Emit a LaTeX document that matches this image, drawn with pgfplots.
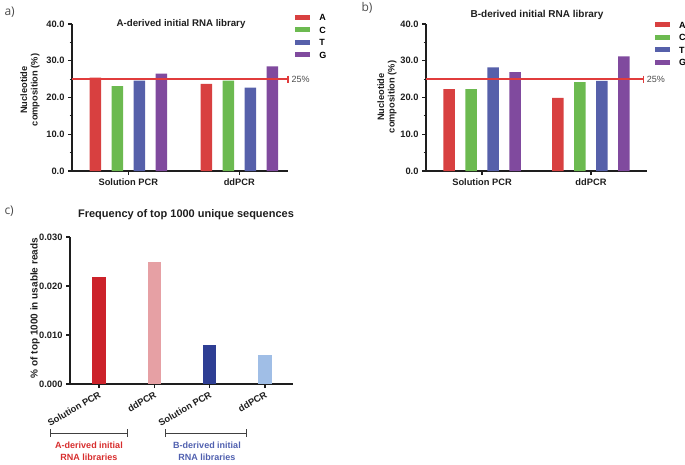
\documentclass[border=0pt]{standalone}
\usepackage{pgfplots}
\pgfplotsset{compat=1.18}
\usepackage{fontspec}
\setmainfont{Liberation Sans}
\newfontfamily\lightfont{Open Sans}
\definecolor{colA}{RGB}{216,64,64}
\definecolor{colC}{RGB}{108,186,80}
\definecolor{colT}{RGB}{86,96,170}
\definecolor{colG}{RGB}{128,74,158}
\definecolor{refline}{RGB}{225,60,60}
\definecolor{cA1}{RGB}{204,34,42}
\definecolor{cA2}{RGB}{230,160,164}
\definecolor{cB1}{RGB}{46,62,148}
\definecolor{cB2}{RGB}{160,190,230}
\definecolor{txtRed}{RGB}{215,45,45}
\definecolor{txtBlue}{RGB}{80,96,175}
\definecolor{ink}{RGB}{30,30,30}

\pgfplotsset{
  panel/.style={
    scale only axis, height=147pt,
    axis lines=left, axis line style={-, line width=1.2pt, ink},
    tick align=outside, major tick length=4pt, minor tick length=2.5pt,
    every tick/.style={ink, line width=1.2pt},
    tick label style={font=\bfseries\fontsize{9.3}{10}\selectfont, text=ink},
    /pgf/number format/assume math mode=true,
    clip=false,
  },
  bars/.style={ybar, draw=none, fill=#1, bar width=11.5pt},
  lgd/.style={legend image code/.code={\fill[##1,draw=none] (0pt,-2.5pt) rectangle (15pt,2.5pt);}},
  lgdstyle/.style={legend style={draw=none, fill=none, at={#1}, anchor=north west,
      font=\bfseries\fontsize{9}{10}\selectfont, row sep=5.5pt,
      nodes={inner sep=0pt, text height=7pt, text depth=0pt},
      /tikz/every odd column/.append style={column sep=9pt}},
      legend cell align=left},
}

\begin{document}
\begin{tikzpicture}[x=1pt,y=1pt]
\useasboundingbox (0,0) rectangle (685,-464);

% ---------------- panel a
\begin{axis}[panel, at={(72pt,-171pt)}, anchor=south west, width=216pt,
  xmin=0.493, xmax=2.439, ymin=0, ymax=40,
  ytick={0,10,20,30,40}, minor y tick num=1,
  yticklabel style={/pgf/number format/.cd, fixed, fixed zerofill, precision=1},
  xtick={1,2}, xticklabels={Solution PCR, ddPCR},
  lgdstyle={(1.019,1.085)}]
\addplot[bars=colA, bar shift=-33pt, lgd] coordinates {(1,25.4) (2,23.7)};
\addplot[bars=colC, bar shift=-11pt, lgd] coordinates {(1,23.1) (2,24.6)};
\addplot[bars=colT, bar shift=11pt, lgd] coordinates {(1,24.6) (2,22.7)};
\addplot[bars=colG, bar shift=33pt, lgd] coordinates {(1,26.5) (2,28.5)};
\legend{A,C,T,G}
\addplot[sharp plot, mark=|, mark size=3.5pt, mark indices={2}, color=refline, line width=1.3pt, forget plot] coordinates {(0.493,25) (2.439,25)};
\node[anchor=west, font=\fontsize{9}{10}\selectfont, text=ink!80] at (axis cs:2.439,25) {25\%};
\end{axis}

% ---------------- panel b
\begin{axis}[panel, at={(426pt,-171pt)}, anchor=south west, width=221pt,
  xmin=0.486, xmax=2.514, ymin=0, ymax=40,
  ytick={0,10,20,30,40}, minor y tick num=1,
  yticklabel style={/pgf/number format/.cd, fixed, fixed zerofill, precision=1},
  xtick={1,2}, xticklabels={Solution PCR, ddPCR},
  lgdstyle={(1.022,1.035)}]
\addplot[bars=colA, bar shift=-33pt, lgd] coordinates {(1,22.3) (2,19.9)};
\addplot[bars=colC, bar shift=-11pt, lgd] coordinates {(1,22.3) (2,24.2)};
\addplot[bars=colT, bar shift=11pt, lgd] coordinates {(1,28.2) (2,24.5)};
\addplot[bars=colG, bar shift=33pt, lgd] coordinates {(1,26.9) (2,31.2)};
\legend{A,C,T,G}
\addplot[sharp plot, mark=|, mark size=3.5pt, mark indices={2}, color=refline, line width=1.3pt, forget plot] coordinates {(0.486,25) (2.48,25)};
\node[anchor=west, font=\fontsize{9}{10}\selectfont, text=ink!80] at (axis cs:2.48,25) {25\%};
\end{axis}

% ---------------- panel c
\begin{axis}[panel, at={(70pt,-384pt)}, anchor=south west, width=223pt,
  xmin=0.476, xmax=4.506, ymin=0, ymax=0.03,
  ytick={0,0.01,0.02,0.03}, scaled y ticks=false,
  yticklabel style={/pgf/number format/.cd, fixed, fixed zerofill, precision=3},
  xtick={1,2,3,4}, xticklabels={Solution PCR, ddPCR, Solution PCR, ddPCR},
  xticklabel style={rotate=30, anchor=north east, inner sep=2pt}]
\addplot[ybar, bar width=13.5pt, draw=none, fill=cA1] coordinates {(1,0.0218)};
\addplot[ybar, bar width=13.5pt, draw=none, fill=cA2] coordinates {(2,0.0250)};
\addplot[ybar, bar width=13.5pt, draw=none, fill=cB1] coordinates {(3,0.0079)};
\addplot[ybar, bar width=13.5pt, draw=none, fill=cB2] coordinates {(4,0.0060)};
\end{axis}

% ---------------- titles, labels
\node[font=\bfseries\fontsize{9.7}{12}\selectfont, text=ink] at (181,-24) {A-derived initial RNA library};
\node[font=\bfseries\fontsize{10}{12}\selectfont, text=ink] at (537,-15) {B-derived initial RNA library};
\node[font=\bfseries\fontsize{11}{12}\selectfont, text=ink] at (186,-215) {Frequency of top 1000 unique sequences};

\node[rotate=90, align=center, font=\bfseries\fontsize{9.3}{10.5}\selectfont, text=ink] at (30,-90) {Nucleotide\\composition (\%)};
\node[rotate=90, align=center, font=\bfseries\fontsize{9.3}{10.5}\selectfont, text=ink] at (387,-97) {Nucleotide\\composition (\%)};
\node[rotate=90, font=\bfseries\fontsize{10}{11}\selectfont, text=ink] at (35,-308) {\% of top 1000 in usable reads};

\node[anchor=west, font=\lightfont\fontsize{12}{12}\selectfont, text=ink!80] at (1,-12) {a)};
\node[anchor=west, font=\lightfont\fontsize{12}{12}\selectfont, text=ink!80] at (358,-8) {b)};
\node[anchor=west, font=\lightfont\fontsize{12}{12}\selectfont, text=ink!80] at (1,-211) {c)};

% brackets
\draw[|-|, line width=0.9pt, ink!85] (50,-433) -- (128,-433);
\draw[|-|, line width=0.9pt, ink!85] (165,-433) -- (247,-433);
\node[align=center, font=\bfseries\fontsize{9}{12}\selectfont, text=txtRed] at (89,-451) {A-derived initial\\RNA libraries};
\node[align=center, font=\bfseries\fontsize{9}{12}\selectfont, text=txtBlue] at (207,-451) {B-derived initial\\RNA libraries};
\end{tikzpicture}
\end{document}
